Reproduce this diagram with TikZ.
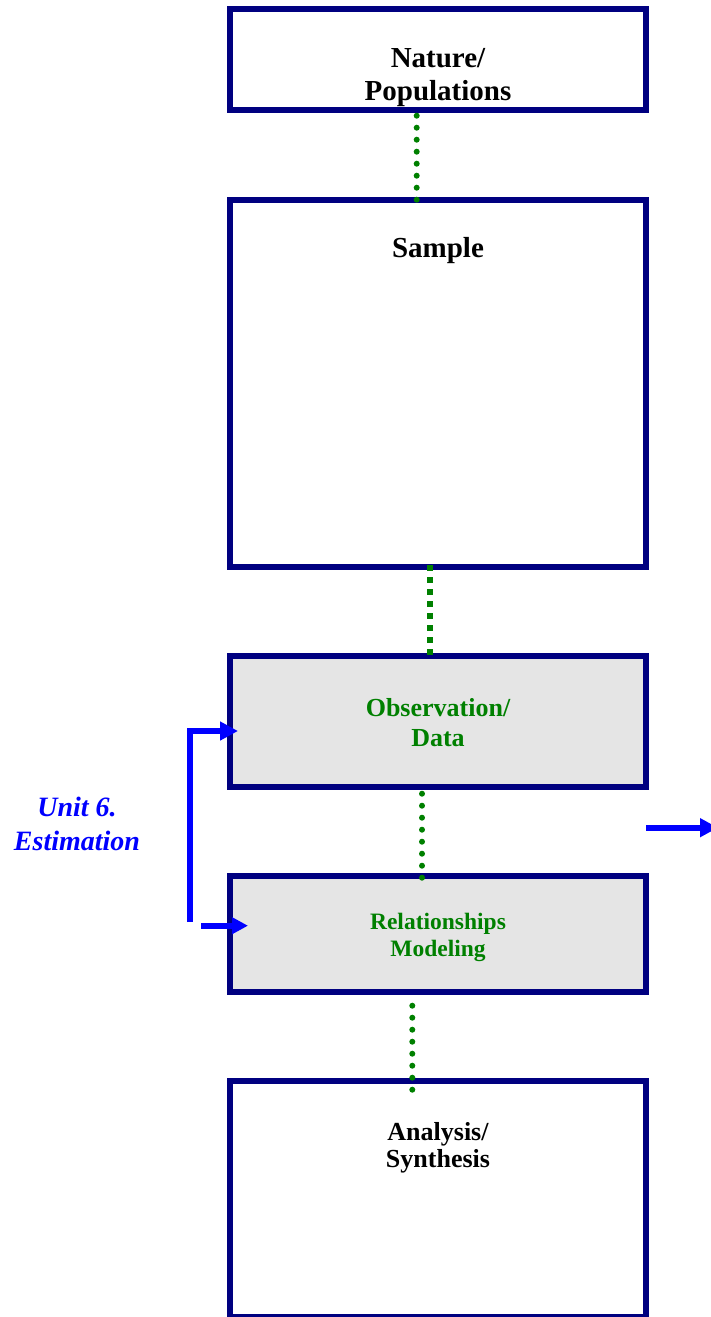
\documentclass[tikz,border=0pt]{standalone}
\usepackage{fontspec}
\setmainfont{Liberation Serif}
\usetikzlibrary{arrows.meta}
\definecolor{boxnavy}{HTML}{000080}
\definecolor{linkgreen}{HTML}{008000}
\definecolor{flowblue}{HTML}{0000FF}
\definecolor{stagegray}{HTML}{E5E5E5}
\begin{document}
\begin{tikzpicture}[x=1pt,y=-1pt,
  stagebox/.style={rectangle,draw=boxnavy,line width=6pt,minimum width=416pt,
    outer sep=0pt,inner sep=0pt},
  shadedbox/.style={stagebox,fill=stagegray},
  heading/.style={align=center,anchor=base,inner sep=0pt,
    font=\fontsize{29}{33}\selectfont\bfseries},
  greenhead/.style={heading,text=linkgreen},
  dotround/.style={draw=linkgreen,line width=6pt,line cap=round,
    dash pattern=on 0pt off 12pt},
  dotsquare/.style={draw=linkgreen,line width=6pt,line cap=butt,
    dash pattern=on 6pt off 6pt},
  flow/.style={draw=flowblue,line width=6pt,line cap=butt},
]
\useasboundingbox (0,0) rectangle (711,1317);
\clip (0,0) rectangle (711,1317);

% stage boxes
\node[stagebox,minimum height=101pt]   (nature) at (438,59.5)   {};
\node[stagebox,minimum height=367.5pt] (sample) at (438,383.25) {};
\node[shadedbox,minimum height=131pt]  (obs)    at (438,721.5)  {};
\node[shadedbox,minimum height=116pt]  (rel)    at (438,934)    {};
\node[stagebox,minimum height=236pt]   (anal)   at (438,1199)   {};

% box titles (anchored at the baseline of the last line)
\node[heading] (natureT) at (438,100) {Nature/\\Populations};
\node[heading] (sampleT) at (438,257) {Sample};
\node[greenhead,font=\fontsize{26}{30}\selectfont\bfseries]
  (obsT) at (438,746.7) {Observation/\\Data};
\node[greenhead,font=\fontsize{23.5}{27}\selectfont\bfseries]
  (relT) at (438,956) {Relationships\\Modeling};
\node[heading,font=\fontsize{26}{27}\selectfont\bfseries]
  (analT) at (438,1167.7) {Analysis/\\Synthesis};

% side label
\node[heading,text=flowblue,font=\fontsize{28}{33.3}\selectfont\bfseries\itshape]
  (unit) at (77,850) {Unit 6.\\Estimation};

% dotted links between stages
\draw[dotround]  ([shift={(-21.3pt,-5.7pt)}]nature.south) -- ([shift={(-21.3pt,-0.2pt)}]sample.north);
\draw[dotsquare] ([shift={(-8pt,2pt)}]sample.south)      -- ([shift={(-8pt,1pt)}]obs.north);
\draw[dotround]  ([shift={(-16pt,-6.7pt)}]obs.south)      -- ([shift={(-16pt,-1.7pt)}]rel.north);
\draw[dotround]  ([shift={(-25.7pt,-13.7pt)}]rel.south)   -- ([shift={(-25.7pt,-8.7pt)}]anal.north);

% estimation loop and outgoing arrow
\coordinate (loopfoot) at (190,922);
\coordinate (loopin)   at (201,925.7);
\coordinate (outfrom)  at (646,827.7);
\coordinate (outto)    at (718,827.7);
\draw[flow,-{Triangle[length=18pt,width=18pt]}] (loopfoot) |- ([shift={(8pt,-9.5pt)}]obs.west);
\draw[flow,-{Triangle[length=16pt,width=16pt]}] (loopin) -- ([shift={(18pt,8.3pt)}]rel.west);
\draw[flow,-{Triangle[length=18pt,width=18pt]}] (outfrom) -- (outto);
\end{tikzpicture}
\end{document}
